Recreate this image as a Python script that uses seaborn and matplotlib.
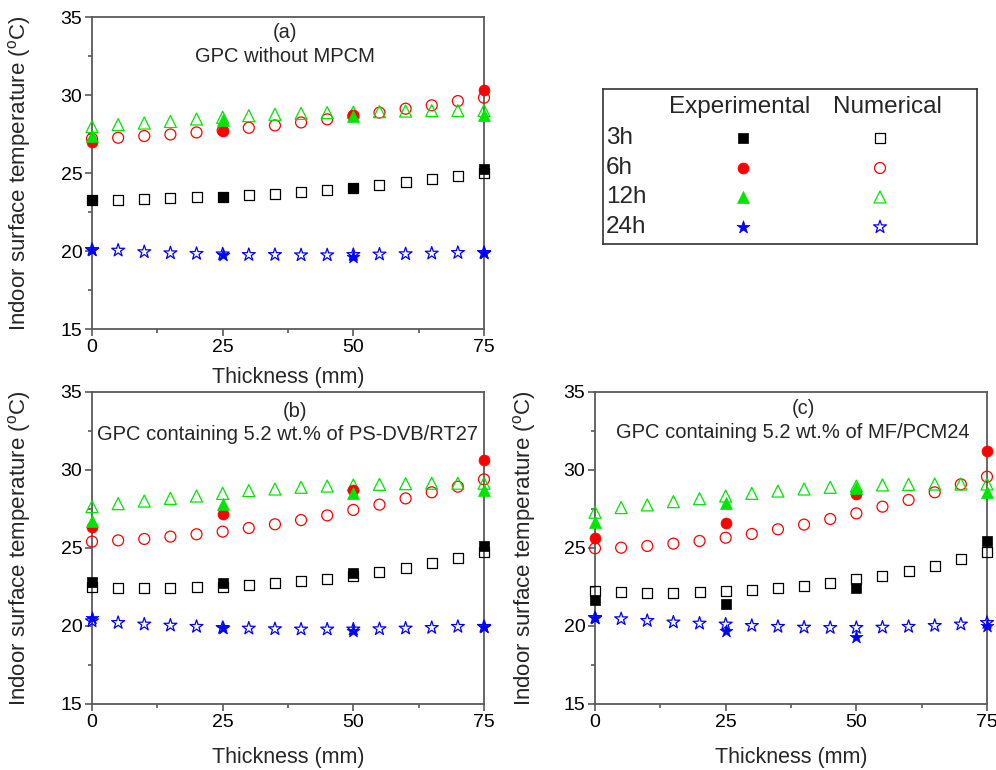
import matplotlib
matplotlib.use("Agg")
import matplotlib.pyplot as plt
import seaborn as sns
import numpy as np
from matplotlib.ticker import MultipleLocator

# ---------------- data ----------------
x_num = [0, 5, 10, 15, 20, 25, 30, 35, 40, 45, 50, 55, 60, 65, 70, 75]
x_exp = [0, 25, 50, 75]
hours = ["3h", "6h", "12h", "24h"]

# (a) GPC without MPCM
a_num_3h = [23.3, 23.3, 23.34, 23.38, 23.43, 23.47, 23.58, 23.68, 23.79, 23.92, 24.05, 24.22, 24.41, 24.6, 24.82, 25.03]
a_num_6h = [27.2, 27.26, 27.37, 27.47, 27.6, 27.72, 27.9, 28.05, 28.24, 28.44, 28.65, 28.87, 29.12, 29.34, 29.61, 29.83]
a_num_12h = [27.97, 28.1, 28.2, 28.3, 28.46, 28.57, 28.67, 28.76, 28.82, 28.87, 28.9, 28.93, 28.97, 29.0, 29.0, 29.0]
a_num_24h = [20.08, 20.04, 19.94, 19.87, 19.83, 19.8, 19.76, 19.76, 19.74, 19.74, 19.76, 19.79, 19.81, 19.85, 19.89, 19.89]
a_exp_3h = [23.3, 23.47, 24.05, 25.25]
a_exp_6h = [27.0, 27.69, 28.72, 30.32]
a_exp_12h = [27.37, 28.4, 28.67, 28.72]
a_exp_24h = [20.09, 19.72, 19.61, 19.89]

# (b) GPC containing 5.2 wt.% of PS-DVB/RT27
b_num_3h = [22.48, 22.44, 22.44, 22.46, 22.48, 22.52, 22.63, 22.74, 22.88, 23.03, 23.2, 23.48, 23.74, 24.04, 24.36, 24.72]
b_num_6h = [25.41, 25.49, 25.58, 25.73, 25.88, 26.05, 26.28, 26.52, 26.79, 27.09, 27.44, 27.78, 28.18, 28.57, 28.93, 29.4]
b_num_12h = [27.65, 27.84, 28.01, 28.18, 28.33, 28.5, 28.68, 28.78, 28.89, 28.97, 29.04, 29.08, 29.12, 29.15, 29.15, 29.15]
b_num_24h = [20.32, 20.21, 20.11, 20.04, 19.96, 19.89, 19.85, 19.81, 19.79, 19.79, 19.79, 19.81, 19.85, 19.89, 19.96, 19.96]
b_exp_3h = [22.8, 22.78, 23.42, 25.15]
b_exp_6h = [26.32, 27.18, 28.72, 30.64]
b_exp_12h = [26.75, 27.8, 28.5, 28.72]
b_exp_24h = [20.53, 19.89, 19.7, 19.96]

# (c) GPC containing 5.2 wt.% of MF/PCM24
c_num_3h = [22.22, 22.16, 22.14, 22.14, 22.16, 22.22, 22.31, 22.41, 22.56, 22.74, 22.99, 23.23, 23.53, 23.87, 24.27, 24.72]
c_num_6h = [24.98, 25.02, 25.13, 25.28, 25.45, 25.66, 25.9, 26.2, 26.5, 26.86, 27.22, 27.65, 28.08, 28.57, 29.08, 29.57]
c_num_12h = [27.29, 27.59, 27.76, 27.97, 28.16, 28.33, 28.5, 28.65, 28.78, 28.89, 28.97, 29.04, 29.08, 29.1, 29.1, 29.1]
c_num_24h = [20.53, 20.45, 20.34, 20.24, 20.17, 20.11, 20.02, 19.96, 19.91, 19.89, 19.89, 19.91, 19.96, 20.02, 20.11, 20.21]
c_exp_3h = [21.67, 21.39, 22.46, 25.45]
c_exp_6h = [25.64, 26.58, 28.44, 31.22]
c_exp_12h = [26.69, 27.91, 28.82, 28.61]
c_exp_24h = [20.49, 19.7, 19.32, 20.02]

titles = ["(a)\nGPC without MPCM",
          "(b)\nGPC containing 5.2 wt.% of PS-DVB/RT27",
          "(c)\nGPC containing 5.2 wt.% of MF/PCM24"]
x_ticks = [0, 25, 50, 75]
y_ticks = [15, 20, 25, 30, 35]

# ---------------- style ----------------
sns.set_style("ticks")
plt.rcParams["font.family"] = ["Liberation Sans", "DejaVu Sans"]
plt.rcParams["mathtext.fontset"] = "custom"
plt.rcParams["mathtext.rm"] = "Liberation Sans"
plt.rcParams["mathtext.it"] = "Liberation Sans:italic"

colors = ["#000000", "#ff0000", "#00e600", "#0000ff"]
markers = ["s", "o", "^", "*"]
sizes = [52, 62, 74, 95]
SPINE = "#5a5a5a"

fig = plt.figure(figsize=(9.96, 7.7), dpi=100)
W, H = 996, 770


def px_axes(l, t, r, b):
    return fig.add_axes([l / W, 1 - b / H, (r - l) / W, (b - t) / H])


axA = px_axes(92, 17, 484, 329)
axB = px_axes(92, 392, 484, 704)
axC = px_axes(595, 392, 987, 704)
axL = px_axes(603, 89, 977, 244)

panels = [
    (axA, [a_num_3h, a_num_6h, a_num_12h, a_num_24h], [a_exp_3h, a_exp_6h, a_exp_12h, a_exp_24h]),
    (axB, [b_num_3h, b_num_6h, b_num_12h, b_num_24h], [b_exp_3h, b_exp_6h, b_exp_12h, b_exp_24h]),
    (axC, [c_num_3h, c_num_6h, c_num_12h, c_num_24h], [c_exp_3h, c_exp_6h, c_exp_12h, c_exp_24h]),
]
title_pos = [(0.492, 0.492, 0.949, 0.872), (0.518, 0.499, 0.939, 0.865), (0.531, 0.505, 0.946, 0.869)]
xlabel_y = [-0.154, -0.17, -0.17]
ylabel_x = [-0.186, -0.186, -0.181]

for i, (ax, nums, exps) in enumerate(panels):
    for k in range(4):
        sns.scatterplot(x=x_num, y=nums[k], ax=ax, marker=markers[k], s=sizes[k],
                        color=colors[k], facecolors="none", edgecolors=colors[k],
                        linewidth=0.9, clip_on=False, zorder=3)
    for k in range(4):
        sns.scatterplot(x=x_exp, y=exps[k], ax=ax, marker=markers[k], s=sizes[k],
                        color=colors[k], edgecolors=colors[k], linewidth=0.5,
                        clip_on=False, zorder=4)
    ax.set_xlim(0, 75)
    ax.set_ylim(15, 35)
    ax.set_xticks(x_ticks)
    ax.set_yticks(y_ticks)
    ax.xaxis.set_minor_locator(MultipleLocator(12.5))
    ax.yaxis.set_minor_locator(MultipleLocator(2.5))
    ax.tick_params(axis="both", which="major", direction="out", length=5, width=1.2,
                   color=SPINE, labelcolor="black", labelsize=14, pad=2,
                   bottom=True, left=True, top=False, right=False)
    ax.tick_params(axis="both", which="minor", direction="out", length=3, width=1.2,
                   color=SPINE, bottom=True, left=True, top=False, right=False)
    for sp in ax.spines.values():
        sp.set_visible(True)
        sp.set_color(SPINE)
        sp.set_linewidth(1.3)
    ax.set_xlabel("Thickness (mm)", fontsize=15.5)
    ax.set_ylabel(r"Indoor surface temperature ($^{\mathrm{o}}$C)", fontsize=16)
    ax.xaxis.set_label_coords(0.5, xlabel_y[i])
    ax.xaxis.label.set_va("center")
    ax.yaxis.set_label_coords(ylabel_x[i], 0.5)
    ax.yaxis.label.set_va("center")
    tx1, tx2, ty1, ty2 = title_pos[i]
    t1, t2 = titles[i].split("\n")
    ax.text(tx1, ty1, t1, transform=ax.transAxes, ha="center", va="center", fontsize=14.5)
    ax.text(tx2, ty2, t2, transform=ax.transAxes, ha="center", va="center", fontsize=14.5)

# ---------------- legend panel ----------------
axL.set_xlim(0, 374)
axL.set_ylim(155, 0)
axL.set_xticks([])
axL.set_yticks([])
for sp in axL.spines.values():
    sp.set_visible(True)
    sp.set_color("#333333")
    sp.set_linewidth(1.2)
axL.text(137, 18, "Experimental", ha="center", va="center", fontsize=17.5)
axL.text(284, 18, "Numerical", ha="center", va="center", fontsize=17.5)
row_y = [49, 79, 108, 138]
for k in range(4):
    axL.text(3, row_y[k], hours[k], ha="left", va="center", fontsize=17.5)
    sns.scatterplot(x=[140], y=[row_y[k]], ax=axL, marker=markers[k], s=sizes[k],
                    color=colors[k], edgecolors=colors[k], linewidth=0.5, zorder=4)
    sns.scatterplot(x=[277], y=[row_y[k]], ax=axL, marker=markers[k], s=sizes[k],
                    color=colors[k], facecolors="none", edgecolors=colors[k],
                    linewidth=0.9, zorder=4)

fig.savefig("out.png", dpi=100)
